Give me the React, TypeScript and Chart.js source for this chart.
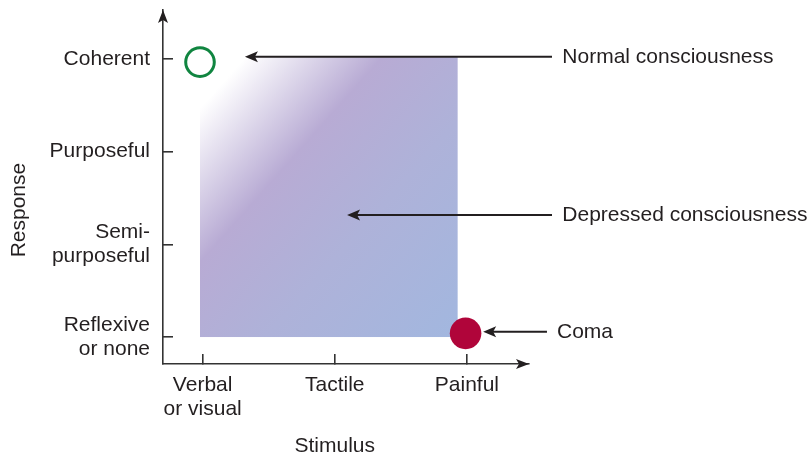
import React, { useEffect, useRef } from "react";
import { Chart, registerables } from "chart.js";

Chart.register(...registerables);

// ---- Data ----
const stimulusValues = [0, 1, 2];
const stimulusLabels: (string | string[])[] = [["Verbal", "or visual"], "Tactile", "Painful"];

const responseValues = [0, 1, 2, 3];
const responseLabels: (string | string[])[] = [["Reflexive", "or none"], ["Semi-", "purposeful"], "Purposeful", "Coherent"];

const normalPoint = [{ x: -0.02, y: 2.967 }];
const comaPoint = [{ x: 1.99, y: 0.04 }];

const depressedRegionX = [-0.02, 1.93];
const depressedRegionY = [0, 3.02];

const annotationTexts = ["Normal consciousness", "Depressed consciousness", "Coma"];
const annotationTipX = [0.32, 1.093, 2.123];
const annotationTailX = [2.644, 2.644, 2.606];
const annotationTextX = [2.722, 2.722, 2.682];
const annotationY = [3.025, 1.317, 0.057];

const xTitle = "Stimulus";
const xTitleCenter = 1.0;
const yTitle = "Response";
const yTitleCenter = 1.37;

// ---- Styles ----
const FONT = '"Liberation Sans", Arial, Helvetica, sans-serif';
const INK = "#231f20";
const AXIS = "#333333";
const FONT_SIZE = 21;

function arrowHead(
  ctx: CanvasRenderingContext2D,
  tipX: number,
  tipY: number,
  dirX: number,
  dirY: number,
  len: number,
  half: number,
  notch: number
) {
  const bx = tipX - dirX * len;
  const by = tipY - dirY * len;
  const px = -dirY;
  const py = dirX;
  ctx.beginPath();
  ctx.moveTo(tipX, tipY);
  ctx.lineTo(bx + px * half, by + py * half);
  ctx.lineTo(tipX - dirX * (len - notch), tipY - dirY * (len - notch));
  ctx.lineTo(bx - px * half, by - py * half);
  ctx.closePath();
  ctx.fill();
}

export default function App() {
  const ref = useRef<HTMLCanvasElement>(null);

  useEffect(() => {
    const canvas = ref.current;
    if (!canvas) return;

    const diagramPlugin = {
      id: "diagram",
      beforeDatasetsDraw(chart: any) {
        const { ctx, scales } = chart;
        const x = scales.x;
        const y = scales.y;
        const x0 = x.getPixelForValue(depressedRegionX[0]);
        const x1 = x.getPixelForValue(depressedRegionX[1]);
        const yTop = y.getPixelForValue(depressedRegionY[1]);
        const yBot = y.getPixelForValue(depressedRegionY[0]);
        const w = x1 - x0;
        const h = yBot - yTop;
        const ang = (41.6 * Math.PI) / 180;
        const ux = Math.cos(ang);
        const uy = Math.sin(ang);
        const L = w * ux + h * uy;
        const g = ctx.createLinearGradient(x0, yTop, x0 + L * ux, yTop + L * uy);
        g.addColorStop(0, "#ffffff");
        g.addColorStop(0.09, "#ffffff");
        g.addColorStop(0.36, "#b8abd4");
        g.addColorStop(0.62, "#aeb2d9");
        g.addColorStop(1, "#a2b7df");
        ctx.save();
        ctx.fillStyle = g;
        ctx.fillRect(x0, yTop, w, h);
        ctx.restore();
      },
      afterDraw(chart: any) {
        const { ctx, scales, chartArea } = chart;
        const x = scales.x;
        const y = scales.y;
        ctx.save();
        // axis arrowheads
        ctx.fillStyle = INK;
        arrowHead(ctx, chartArea.left, chartArea.top, 0, -1, 13, 5, 3);
        arrowHead(ctx, chartArea.right, chartArea.bottom, 1, 0, 13, 5, 3);

        // annotation arrows
        ctx.strokeStyle = INK;
        ctx.fillStyle = INK;
        ctx.lineWidth = 2;
        ctx.font = `${FONT_SIZE}px ${FONT}`;
        ctx.textBaseline = "middle";
        ctx.textAlign = "left";
        for (let i = 0; i < annotationTexts.length; i++) {
          const tip = x.getPixelForValue(annotationTipX[i]);
          const tail = x.getPixelForValue(annotationTailX[i]);
          const yy = y.getPixelForValue(annotationY[i]);
          ctx.beginPath();
          ctx.moveTo(tail, yy);
          ctx.lineTo(tip + 9, yy);
          ctx.stroke();
          arrowHead(ctx, tip, yy, -1, 0, 13, 5.5, 3);
          ctx.fillText(annotationTexts[i], x.getPixelForValue(annotationTextX[i]), yy);
        }

        // axis titles
        ctx.textAlign = "center";
        ctx.fillText(xTitle, x.getPixelForValue(xTitleCenter), 446);
        ctx.translate(19.5, y.getPixelForValue(yTitleCenter));
        ctx.rotate(-Math.PI / 2);
        ctx.fillText(yTitle, 0, 0);
        ctx.restore();
      },
    };

    const tickFont = { family: FONT, size: FONT_SIZE, lineHeight: "24px" };

    const chart = new Chart(canvas, {
      type: "scatter",
      data: {
        datasets: [
          {
            label: "Normal consciousness",
            data: normalPoint,
            pointRadius: 14.3,
            pointHoverRadius: 14.3,
            borderWidth: 3,
            borderColor: "#108540",
            backgroundColor: "rgba(255,255,255,0)",
          },
          {
            label: "Coma",
            data: comaPoint,
            pointRadius: 15.8,
            pointHoverRadius: 15.8,
            borderWidth: 0,
            backgroundColor: "#b0053a",
            borderColor: "#b0053a",
          },
        ],
      },
      options: {
        responsive: false,
        maintainAspectRatio: false,
        animation: false,
        devicePixelRatio: 1,
        events: [],
        layout: { autoPadding: false, padding: { left: 0, top: 10, right: 282, bottom: 0 } },
        plugins: {
          legend: { display: false },
          tooltip: { enabled: false },
        },
        scales: {
          x: {
            type: "linear",
            bounds: "data",
            min: -0.3,
            max: 2.47,
            afterBuildTicks: (s: any) => {
              s.ticks = stimulusValues.map((v) => ({ value: v }));
            },
            afterFit: (s: any) => {
              s.height = 92;
              s.paddingLeft = 0;
              s.paddingRight = 0;
              s.paddingTop = 0;
              s.paddingBottom = 0;
            },
            ticks: {
              callback: (v: any) => {
                const i = stimulusValues.indexOf(Number(v));
                return i >= 0 ? stimulusLabels[i] : "";
              },
              font: tickFont as any,
              color: INK,
              padding: 19,
              maxRotation: 0,
              minRotation: 0,
              autoSkip: false,
            },
            grid: {
              display: true,
              drawOnChartArea: false,
              drawTicks: true,
              tickLength: -10,
              color: AXIS,
              lineWidth: 1.6,
            },
            border: { display: true, color: AXIS, width: 1.6 },
          },
          y: {
            type: "linear",
            bounds: "data",
            min: -0.291,
            max: 3.529,
            afterBuildTicks: (s: any) => {
              s.ticks = responseValues.map((v) => ({ value: v }));
            },
            afterFit: (s: any) => {
              s.width = 163;
              s.paddingTop = 0;
              s.paddingBottom = 0;
              s.paddingLeft = 0;
              s.paddingRight = 0;
            },
            ticks: {
              callback: (v: any) => {
                const i = responseValues.indexOf(Number(v));
                return i >= 0 ? responseLabels[i] : "";
              },
              font: tickFont as any,
              color: INK,
              padding: 23,
              autoSkip: false,
            },
            grid: {
              display: true,
              drawOnChartArea: false,
              drawTicks: true,
              tickLength: -10,
              color: AXIS,
              lineWidth: 1.6,
            },
            border: { display: true, color: AXIS, width: 1.6 },
          },
        },
      } as any,
      plugins: [diagramPlugin],
    });

    return () => {
      chart.destroy();
    };
  }, []);

  return (
    <div style={{ position: "fixed", left: 0, top: 0, width: 811, height: 456, background: "#fff" }}>
      <canvas ref={ref} width={811} height={456} style={{ display: "block", width: 811, height: 456 }} />
    </div>
  );
}
